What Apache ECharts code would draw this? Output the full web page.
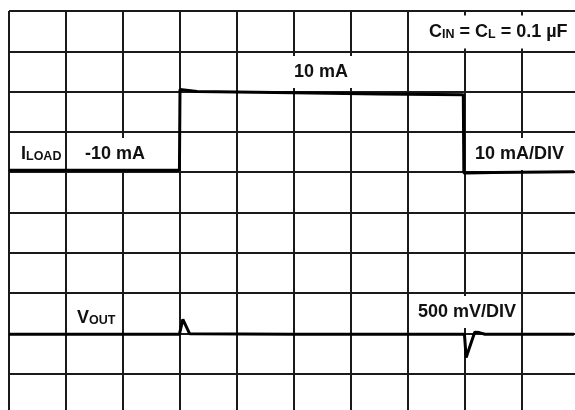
<!DOCTYPE html>
<html>
<head>
<meta charset="utf-8">
<script src="https://cdn.jsdelivr.net/npm/echarts@6/dist/echarts.min.js"></script>
<style>
  html, body { margin: 0; padding: 0; background: #fff; }
  #chart { width: 575px; height: 410px; }
</style>
</head>
<body>
<div id="chart"></div>
<script>
// scope trace data, x and y in divisions (10 x 10 screen)
const loadTime  = [0, 2.99, 3.0, 3.03, 3.3, 5.0, 6.5, 7.97, 7.98, 8.02, 8.5, 9.91];
const loadLevel = [6.05, 6.05, 8.05, 8.02, 8.0, 7.97, 7.94, 7.92, 5.98, 5.98, 5.99, 6.01];

const outTime  = [0, 2.99, 3.05, 3.17, 5.0, 7.99, 8.02, 8.04, 8.17, 8.25, 8.35, 9.91];
const outLevel = [1.98, 1.98, 2.35, 1.99, 1.98, 1.98, 1.4, 1.42, 2.03, 2.02, 1.98, 1.98];

// annotation texts ({b|..} normal size, {s|..} small caps)
const labelLoad  = '{b|I}{s|LOAD}';
const labelOut   = '{b|V}{s|OUT}';
const labelCap   = '{b|C}{s|IN}{b| = C}{s|L}{b| = 0.1 µF}';
const labelLow   = '-10 mA';
const labelHigh  = '10 mA';
const labelIDiv  = '10 mA/DIV';
const labelVDiv  = '500 mV/DIV';

const FONT = "'Liberation Sans', Arial, sans-serif";

function pairs(xs, ys) {
  return xs.map((x, i) => [x, ys[i]]);
}

// one text box on the screen, white background hides the grid behind it
function note(text, x, y, pad) {
  return {
    type: 'text',
    x: x,
    y: y,
    z: 1,
    style: {
      text: text,
      align: 'left',
      verticalAlign: 'middle',
      fill: '#111',
      fontFamily: FONT,
      fontWeight: 'bold',
      fontSize: 18,
      backgroundColor: pad ? '#fff' : null,
      padding: [7, pad || 0],
      rich: {
        b: { fontFamily: FONT, fontWeight: 'bold', fontSize: 18, lineHeight: 19, verticalAlign: 'bottom' },
        s: { fontFamily: FONT, fontWeight: 'bold', fontSize: 12.5, lineHeight: 19, verticalAlign: 'bottom' }
      }
    }
  };
}

const chart = echarts.init(document.getElementById('chart'));

const gridLine = { show: true, lineStyle: { color: '#1a1a1a', width: 2 } };

const option = {
  animation: false,
  backgroundColor: '#fff',
  // last lines fall off the canvas, so do not squeeze the grid inside it
  grid: { left: 9, top: 11, width: 570, height: 403, outerBoundsMode: 'none' },
  xAxis: {
    type: 'value', min: 0, max: 10, interval: 1,
    axisLine: { show: false }, axisTick: { show: false }, axisLabel: { show: false },
    splitLine: gridLine
  },
  yAxis: {
    type: 'value', min: 0, max: 10, interval: 1,
    axisLine: { show: false }, axisTick: { show: false }, axisLabel: { show: false },
    splitLine: gridLine
  },
  series: [
    {
      name: 'ILOAD', type: 'line', data: pairs(loadTime, loadLevel),
      symbol: 'none', z: 3,
      lineStyle: { color: '#000', width: 3 }
    },
    {
      name: 'VOUT', type: 'line', data: pairs(outTime, outLevel),
      symbol: 'none', z: 3,
      lineStyle: { color: '#000', width: 3 }
    }
  ],
  graphic: [
    note(labelCap, 424, 32, 5),
    note(labelHigh, 289, 72, 5),
    note(labelLoad, 21, 154, 0),
    note(labelLow, 80, 154, 5),
    note(labelIDiv, 470, 154, 5),
    note(labelOut, 77, 318, 0),
    note(labelVDiv, 413, 312, 5)
  ]
};

chart.setOption(option);
</script>
</body>
</html>
